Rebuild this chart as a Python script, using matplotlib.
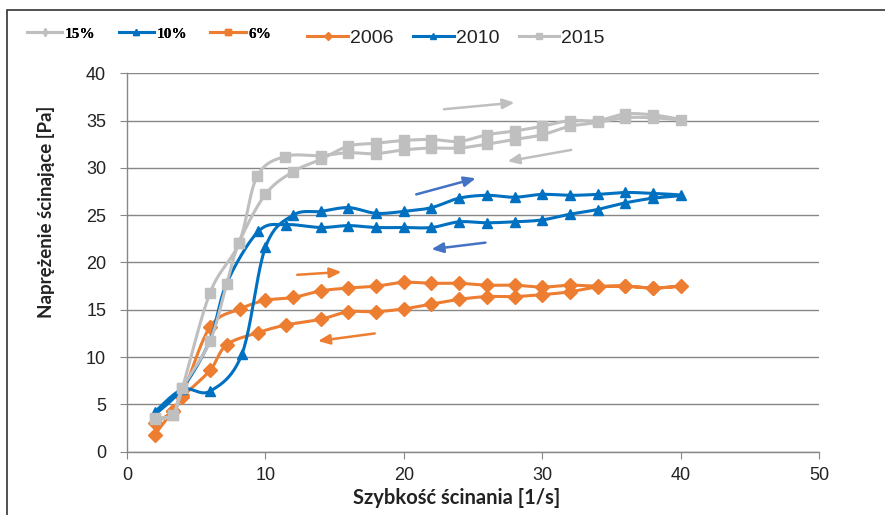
import numpy as np
import matplotlib
matplotlib.use("Agg")
import matplotlib.pyplot as plt
from matplotlib.lines import Line2D
from matplotlib.patches import Rectangle

# shear rate [1/s] and shear stress [Pa], ramp up then ramp down
rate_up_2006 = [2, 3.3, 4, 6, 8.2, 10, 12, 14, 16, 18, 20, 22, 24, 26, 28, 30, 32, 34, 36, 38, 40]
stress_up_2006 = [3.0, 4.3, 6.0, 13.2, 15.1, 16.0, 16.3, 17.0, 17.3, 17.5, 17.9, 17.8, 17.8, 17.6, 17.6, 17.4, 17.6, 17.5, 17.5, 17.3, 17.5]
rate_down_2006 = [38, 36, 34, 32, 30, 28, 26, 24, 22, 20, 18, 16, 14, 11.5, 9.5, 7.2, 6, 4, 3.3, 2]
stress_down_2006 = [17.3, 17.5, 17.4, 16.9, 16.6, 16.4, 16.4, 16.1, 15.6, 15.1, 14.8, 14.8, 14.0, 13.4, 12.6, 11.3, 8.6, 5.8, 4.3, 1.8]

rate_up_2010 = [2, 4, 6, 8.3, 10, 12, 14, 16, 18, 20, 22, 24, 26, 28, 30, 32, 34, 36, 38, 40]
stress_up_2010 = [4.2, 6.6, 6.4, 10.3, 21.6, 25.0, 25.4, 25.8, 25.2, 25.4, 25.8, 26.8, 27.1, 26.9, 27.2, 27.1, 27.2, 27.4, 27.3, 27.1]
rate_down_2010 = [38, 36, 34, 32, 30, 28, 26, 24, 22, 20, 18, 16, 14, 11.5, 9.5, 7.2, 6, 4, 2]
stress_down_2010 = [26.8, 26.3, 25.6, 25.1, 24.5, 24.3, 24.2, 24.3, 23.7, 23.7, 23.7, 23.9, 23.7, 24.0, 23.3, 17.8, 11.8, 6.7, 3.9]

rate_up_2015 = [2, 3.3, 4, 6, 7.2, 8.1, 10, 12, 14, 16, 18, 20, 22, 24, 26, 28, 30, 32, 34, 36, 38, 40]
stress_up_2015 = [3.6, 3.9, 6.7, 11.7, 17.7, 22.1, 27.2, 29.6, 30.9, 32.3, 32.6, 32.9, 33.0, 32.8, 33.5, 33.9, 34.4, 35.0, 35.0, 35.7, 35.6, 35.1]
rate_down_2015 = [38, 36, 34, 32, 30, 28, 26, 24, 22, 20, 18, 16, 14, 11.4, 9.4, 8.1, 6, 4, 3.3, 2]
stress_down_2015 = [35.3, 35.3, 34.8, 34.4, 33.5, 33.0, 32.5, 32.1, 32.1, 31.9, 31.5, 31.6, 31.3, 31.2, 29.1, 22.1, 16.8, 6.7, 3.9, 3.5]

series_names = ["2006", "2010", "2015"]
concentration_labels = ["15%", "10%", "6%"]

# direction arrows: (x_start, y_start, x_end, y_end)
arrows_2006 = [(12.3, 18.7, 15.5, 19.0), (17.9, 12.5, 13.8, 11.7)]
arrows_2010 = [(20.9, 27.2, 25.2, 28.9), (25.9, 22.1, 22.0, 21.4)]
arrows_2015 = [(22.9, 36.2, 28.0, 36.9), (32.1, 31.9, 27.5, 30.7)]

ORANGE = "#ED7D31"
BLUE = "#0070C0"
GREY = "#BFBFBF"
ARROW_BLUE = "#4472C4"
AXIS_GREY = "#878787"
TEXT = "#222222"


def smooth(x, y, n=24):
    # Bezier smoothing through the points, like a spreadsheet "smoothed line"
    pts = np.column_stack([x, y]).astype(float)
    P = np.vstack([pts[0], pts, pts[-1]])
    t = np.linspace(0, 1, n)[:, None]
    segs = []
    for i in range(1, len(P) - 2):
        p0, p1, p2, p3 = P[i - 1], P[i], P[i + 1], P[i + 2]
        c1 = p1 + (p2 - p0) / 6
        c2 = p2 - (p3 - p1) / 6
        segs.append((1 - t) ** 3 * p1 + 3 * (1 - t) ** 2 * t * c1
                    + 3 * (1 - t) * t ** 2 * c2 + t ** 3 * p2)
    s = np.vstack(segs)
    return s[:, 0], s[:, 1]


fig = plt.figure(figsize=(8.85, 5.15), dpi=100)
ax = fig.add_axes([0.1435, 0.1229, 0.7819, 0.7348])

series = [
    (rate_up_2006 + rate_down_2006, stress_up_2006 + stress_down_2006, ORANGE, "D", 7.0, arrows_2006, ORANGE),
    (rate_up_2010 + rate_down_2010, stress_up_2010 + stress_down_2010, BLUE, "^", 7.0, arrows_2010, ARROW_BLUE),
    (rate_up_2015 + rate_down_2015, stress_up_2015 + stress_down_2015, GREY, "s", 6.5, arrows_2015, GREY),
]

handles = []
for k, (x, y, col, mk, ms, arr, acol) in enumerate(series):
    sx, sy = smooth(x, y)
    ax.plot(sx, sy, color=col, lw=2.2, zorder=3 + k, solid_capstyle="round")
    ax.plot(x, y, ls="none", marker=mk, ms=ms, color=col, mec=col, zorder=3 + k)
    handles.append(Line2D([], [], color=col, lw=2.2, marker=mk, ms=4.5))
    for (x0, y0, x1, y1) in arr:
        ax.annotate("", xy=(x1, y1), xytext=(x0, y0),
                    arrowprops=dict(arrowstyle="-|>,head_length=0.7,head_width=0.3",
                                    color=acol, lw=1.8, shrinkA=0, shrinkB=0),
                    zorder=10)

ax.set_xlim(0, 50)
ax.set_ylim(0, 40)
ax.set_xticks(range(0, 51, 10))
ax.set_yticks(range(0, 41, 5))
ax.grid(axis="y", color=AXIS_GREY, lw=1.0)
ax.set_axisbelow(True)
for side in ("top", "right"):
    ax.spines[side].set_visible(False)
for side in ("left", "bottom"):
    ax.spines[side].set_color(AXIS_GREY)
    ax.spines[side].set_linewidth(1.0)
ax.tick_params(axis="y", length=5, color=AXIS_GREY, pad=10, labelsize=13, labelcolor=TEXT)
ax.tick_params(axis="x", length=5, color=AXIS_GREY, pad=6, labelsize=13, labelcolor=TEXT)
for lab in ax.get_xticklabels() + ax.get_yticklabels():
    lab.set_fontfamily(["Liberation Sans", "DejaVu Sans"])

label_font = dict(family=["Lato", "DejaVu Sans"], fontweight="bold", color=TEXT)
ax.set_ylabel("Naprężenie ścinające [Pa]", fontsize=13.5, **label_font)
ax.set_xlabel("Szybkość ścinania [1/s]", fontsize=14.5, **label_font)
ax.yaxis.set_label_coords(-0.104, 0.633)
ax.xaxis.set_label_coords(0.477, -0.095)

# legend for the concentrations (small serif labels)
conc_handles = [
    Line2D([], [], color=GREY, lw=2.2, marker="d", ms=4),
    Line2D([], [], color=BLUE, lw=2.2, marker="^", ms=5),
    Line2D([], [], color=ORANGE, lw=2.2, marker="s", ms=5),
]
leg1 = fig.legend(conc_handles, concentration_labels, loc="center left",
                  bbox_to_anchor=(0.0305, 0.934), ncol=3, frameon=False,
                  prop=dict(family=["Liberation Serif", "DejaVu Serif"], weight="bold", size=11),
                  handlelength=2.3, handletextpad=0.2, columnspacing=1.5,
                  borderpad=0, borderaxespad=0)
fig.add_artist(leg1)

leg2 = fig.legend(handles, series_names, loc="center left",
                  bbox_to_anchor=(0.347, 0.926), ncol=3, frameon=False,
                  prop=dict(family=["Liberation Sans", "DejaVu Sans"], size=14),
                  handlelength=2.1, handletextpad=0.1, columnspacing=1.0,
                  borderpad=0, borderaxespad=0)
for t in leg2.get_texts():
    t.set_color(TEXT)

# outer frame round the chart
fig.patches.append(Rectangle((7 / 885, -0.1), 1.2, 1 - 10 / 515 + 0.1,
                             transform=fig.transFigure, fill=False,
                             edgecolor="#333333", lw=1.2))

fig.savefig("out.png", dpi=100)
